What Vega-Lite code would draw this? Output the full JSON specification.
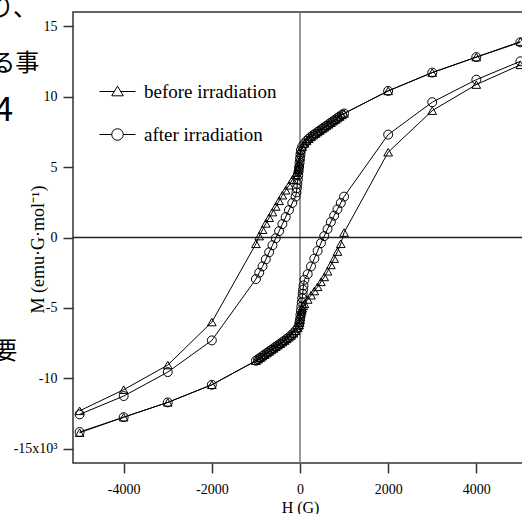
{
  "$schema": "https://vega.github.io/schema/vega-lite/v6.json",
  "autosize": {"type": "none"},
  "padding": {"left": 73, "top": 12, "right": 0, "bottom": 51},
  "width": 454,
  "height": 451,
  "background": "white",
  "config": {
    "view": {"stroke": "#333", "strokeWidth": 1.5},
    "axis": {"domain": false, "grid": false, "tickColor": "#333", "tickWidth": 1.5, "tickSize": 10,
      "labelFont": "Liberation Serif", "labelFontSize": 14, "labelColor": "black",
      "titleFont": "Liberation Serif", "titleFontSize": 16, "titleFontWeight": "normal", "titleColor": "black"},
    "legend": {"orient": "none", "title": null, "padding": 0, "symbolSize": 1296, "symbolStrokeWidth": 1,
      "symbolStrokeColor": "black", "symbolFillColor": "transparent", "symbolOpacity": 1,
      "labelFont": "Liberation Serif", "labelFontSize": 19, "labelColor": "black", "labelOffset": 8}
  },
  "datasets": {
    "pts": [
      {"sample":"before","branch":"down","H":5000,"M":13.9},{"sample":"before","branch":"down","H":4000,"M":12.8},{"sample":"before","branch":"down","H":3000,"M":11.7},{"sample":"before","branch":"down","H":2000,"M":10.4},{"sample":"before","branch":"down","H":1000,"M":8.8},{"sample":"before","branch":"down","H":950,"M":8.69},{"sample":"before","branch":"down","H":900,"M":8.58},{"sample":"before","branch":"down","H":850,"M":8.47},{"sample":"before","branch":"down","H":800,"M":8.36},{"sample":"before","branch":"down","H":750,"M":8.25},{"sample":"before","branch":"down","H":700,"M":8.14},{"sample":"before","branch":"down","H":650,"M":8.03},{"sample":"before","branch":"down","H":600,"M":7.92},{"sample":"before","branch":"down","H":550,"M":7.81},{"sample":"before","branch":"down","H":500,"M":7.7},{"sample":"before","branch":"down","H":450,"M":7.59},{"sample":"before","branch":"down","H":400,"M":7.48},{"sample":"before","branch":"down","H":350,"M":7.37},{"sample":"before","branch":"down","H":300,"M":7.26},{"sample":"before","branch":"down","H":250,"M":7.14},{"sample":"before","branch":"down","H":200,"M":7.0},{"sample":"before","branch":"down","H":150,"M":6.85},{"sample":"before","branch":"down","H":100,"M":6.67},{"sample":"before","branch":"down","H":50,"M":6.45},{"sample":"before","branch":"down","H":20,"M":6.25},{"sample":"before","branch":"down","H":10,"M":6.0},{"sample":"before","branch":"down","H":0,"M":5.7},{"sample":"before","branch":"down","H":-10,"M":5.4},{"sample":"before","branch":"down","H":-20,"M":5.2},{"sample":"before","branch":"down","H":-30,"M":5.05},{"sample":"before","branch":"down","H":-40,"M":4.9},{"sample":"before","branch":"down","H":-50,"M":4.8},{"sample":"before","branch":"down","H":-75,"M":4.6},{"sample":"before","branch":"down","H":-100,"M":4.45},{"sample":"before","branch":"down","H":-175,"M":4.1},{"sample":"before","branch":"down","H":-250,"M":3.7},{"sample":"before","branch":"down","H":-325,"M":3.35},{"sample":"before","branch":"down","H":-400,"M":3.0},{"sample":"before","branch":"down","H":-475,"M":2.6},{"sample":"before","branch":"down","H":-550,"M":2.2},{"sample":"before","branch":"down","H":-625,"M":1.8},{"sample":"before","branch":"down","H":-700,"M":1.4},{"sample":"before","branch":"down","H":-775,"M":1.0},{"sample":"before","branch":"down","H":-850,"M":0.55},{"sample":"before","branch":"down","H":-925,"M":0.1},{"sample":"before","branch":"down","H":-1000,"M":-0.45},{"sample":"before","branch":"down","H":-2000,"M":-6.0},{"sample":"before","branch":"down","H":-3000,"M":-9.05},{"sample":"before","branch":"down","H":-4000,"M":-10.8},{"sample":"before","branch":"down","H":-5000,"M":-12.3},
      {"sample":"before","branch":"up","H":-5000,"M":-13.85},{"sample":"before","branch":"up","H":-4000,"M":-12.75},{"sample":"before","branch":"up","H":-3000,"M":-11.7},{"sample":"before","branch":"up","H":-2000,"M":-10.45},{"sample":"before","branch":"up","H":-1000,"M":-8.75},{"sample":"before","branch":"up","H":-950,"M":-8.64},{"sample":"before","branch":"up","H":-900,"M":-8.53},{"sample":"before","branch":"up","H":-850,"M":-8.42},{"sample":"before","branch":"up","H":-800,"M":-8.31},{"sample":"before","branch":"up","H":-750,"M":-8.2},{"sample":"before","branch":"up","H":-700,"M":-8.09},{"sample":"before","branch":"up","H":-650,"M":-7.98},{"sample":"before","branch":"up","H":-600,"M":-7.87},{"sample":"before","branch":"up","H":-550,"M":-7.76},{"sample":"before","branch":"up","H":-500,"M":-7.65},{"sample":"before","branch":"up","H":-450,"M":-7.54},{"sample":"before","branch":"up","H":-400,"M":-7.43},{"sample":"before","branch":"up","H":-350,"M":-7.32},{"sample":"before","branch":"up","H":-300,"M":-7.2},{"sample":"before","branch":"up","H":-250,"M":-7.08},{"sample":"before","branch":"up","H":-200,"M":-6.95},{"sample":"before","branch":"up","H":-150,"M":-6.8},{"sample":"before","branch":"up","H":-100,"M":-6.62},{"sample":"before","branch":"up","H":-50,"M":-6.42},{"sample":"before","branch":"up","H":-20,"M":-6.22},{"sample":"before","branch":"up","H":-10,"M":-6.05},{"sample":"before","branch":"up","H":0,"M":-5.85},{"sample":"before","branch":"up","H":10,"M":-5.6},{"sample":"before","branch":"up","H":20,"M":-5.4},{"sample":"before","branch":"up","H":30,"M":-5.25},{"sample":"before","branch":"up","H":40,"M":-5.12},{"sample":"before","branch":"up","H":50,"M":-5.02},{"sample":"before","branch":"up","H":75,"M":-4.85},{"sample":"before","branch":"up","H":100,"M":-4.7},{"sample":"before","branch":"up","H":175,"M":-4.4},{"sample":"before","branch":"up","H":250,"M":-4.1},{"sample":"before","branch":"up","H":325,"M":-3.8},{"sample":"before","branch":"up","H":400,"M":-3.5},{"sample":"before","branch":"up","H":475,"M":-3.15},{"sample":"before","branch":"up","H":550,"M":-2.8},{"sample":"before","branch":"up","H":625,"M":-2.4},{"sample":"before","branch":"up","H":700,"M":-1.95},{"sample":"before","branch":"up","H":775,"M":-1.5},{"sample":"before","branch":"up","H":850,"M":-1.0},{"sample":"before","branch":"up","H":925,"M":-0.45},{"sample":"before","branch":"up","H":1000,"M":0.35},{"sample":"before","branch":"up","H":2000,"M":6.05},{"sample":"before","branch":"up","H":3000,"M":9.0},{"sample":"before","branch":"up","H":4000,"M":10.85},{"sample":"before","branch":"up","H":5000,"M":12.25},
      {"sample":"after","branch":"down","H":5000,"M":13.85},{"sample":"after","branch":"down","H":4000,"M":12.8},{"sample":"after","branch":"down","H":3000,"M":11.7},{"sample":"after","branch":"down","H":2000,"M":10.4},{"sample":"after","branch":"down","H":1000,"M":8.8},{"sample":"after","branch":"down","H":950,"M":8.7},{"sample":"after","branch":"down","H":900,"M":8.59},{"sample":"after","branch":"down","H":850,"M":8.48},{"sample":"after","branch":"down","H":800,"M":8.37},{"sample":"after","branch":"down","H":750,"M":8.26},{"sample":"after","branch":"down","H":700,"M":8.15},{"sample":"after","branch":"down","H":650,"M":8.04},{"sample":"after","branch":"down","H":600,"M":7.93},{"sample":"after","branch":"down","H":550,"M":7.82},{"sample":"after","branch":"down","H":500,"M":7.71},{"sample":"after","branch":"down","H":450,"M":7.6},{"sample":"after","branch":"down","H":400,"M":7.49},{"sample":"after","branch":"down","H":350,"M":7.38},{"sample":"after","branch":"down","H":300,"M":7.27},{"sample":"after","branch":"down","H":250,"M":7.15},{"sample":"after","branch":"down","H":200,"M":7.01},{"sample":"after","branch":"down","H":150,"M":6.86},{"sample":"after","branch":"down","H":100,"M":6.68},{"sample":"after","branch":"down","H":50,"M":6.46},{"sample":"after","branch":"down","H":20,"M":6.2},{"sample":"after","branch":"down","H":10,"M":5.9},{"sample":"after","branch":"down","H":0,"M":5.6},{"sample":"after","branch":"down","H":-10,"M":5.3},{"sample":"after","branch":"down","H":-20,"M":5.0},{"sample":"after","branch":"down","H":-30,"M":4.7},{"sample":"after","branch":"down","H":-40,"M":4.4},{"sample":"after","branch":"down","H":-50,"M":4.1},{"sample":"after","branch":"down","H":-60,"M":3.8},{"sample":"after","branch":"down","H":-70,"M":3.5},{"sample":"after","branch":"down","H":-80,"M":3.2},{"sample":"after","branch":"down","H":-100,"M":2.9},{"sample":"after","branch":"down","H":-175,"M":2.45},{"sample":"after","branch":"down","H":-250,"M":1.95},{"sample":"after","branch":"down","H":-325,"M":1.45},{"sample":"after","branch":"down","H":-400,"M":0.95},{"sample":"after","branch":"down","H":-475,"M":0.45},{"sample":"after","branch":"down","H":-550,"M":-0.05},{"sample":"after","branch":"down","H":-625,"M":-0.55},{"sample":"after","branch":"down","H":-700,"M":-1.05},{"sample":"after","branch":"down","H":-775,"M":-1.55},{"sample":"after","branch":"down","H":-850,"M":-2.05},{"sample":"after","branch":"down","H":-925,"M":-2.5},{"sample":"after","branch":"down","H":-1000,"M":-2.95},{"sample":"after","branch":"down","H":-2000,"M":-7.3},{"sample":"after","branch":"down","H":-3000,"M":-9.55},{"sample":"after","branch":"down","H":-4000,"M":-11.25},{"sample":"after","branch":"down","H":-5000,"M":-12.55},
      {"sample":"after","branch":"up","H":-5000,"M":-13.8},{"sample":"after","branch":"up","H":-4000,"M":-12.75},{"sample":"after","branch":"up","H":-3000,"M":-11.7},{"sample":"after","branch":"up","H":-2000,"M":-10.45},{"sample":"after","branch":"up","H":-1000,"M":-8.74},{"sample":"after","branch":"up","H":-950,"M":-8.63},{"sample":"after","branch":"up","H":-900,"M":-8.52},{"sample":"after","branch":"up","H":-850,"M":-8.41},{"sample":"after","branch":"up","H":-800,"M":-8.3},{"sample":"after","branch":"up","H":-750,"M":-8.19},{"sample":"after","branch":"up","H":-700,"M":-8.08},{"sample":"after","branch":"up","H":-650,"M":-7.97},{"sample":"after","branch":"up","H":-600,"M":-7.86},{"sample":"after","branch":"up","H":-550,"M":-7.75},{"sample":"after","branch":"up","H":-500,"M":-7.64},{"sample":"after","branch":"up","H":-450,"M":-7.53},{"sample":"after","branch":"up","H":-400,"M":-7.42},{"sample":"after","branch":"up","H":-350,"M":-7.31},{"sample":"after","branch":"up","H":-300,"M":-7.19},{"sample":"after","branch":"up","H":-250,"M":-7.07},{"sample":"after","branch":"up","H":-200,"M":-6.94},{"sample":"after","branch":"up","H":-150,"M":-6.79},{"sample":"after","branch":"up","H":-100,"M":-6.61},{"sample":"after","branch":"up","H":-50,"M":-6.41},{"sample":"after","branch":"up","H":-20,"M":-6.2},{"sample":"after","branch":"up","H":-10,"M":-6.0},{"sample":"after","branch":"up","H":0,"M":-5.8},{"sample":"after","branch":"up","H":10,"M":-5.5},{"sample":"after","branch":"up","H":20,"M":-5.2},{"sample":"after","branch":"up","H":30,"M":-4.9},{"sample":"after","branch":"up","H":40,"M":-4.6},{"sample":"after","branch":"up","H":50,"M":-4.3},{"sample":"after","branch":"up","H":60,"M":-4.0},{"sample":"after","branch":"up","H":70,"M":-3.7},{"sample":"after","branch":"up","H":80,"M":-3.4},{"sample":"after","branch":"up","H":100,"M":-3.0},{"sample":"after","branch":"up","H":175,"M":-2.6},{"sample":"after","branch":"up","H":250,"M":-2.05},{"sample":"after","branch":"up","H":325,"M":-1.5},{"sample":"after","branch":"up","H":400,"M":-0.95},{"sample":"after","branch":"up","H":475,"M":-0.4},{"sample":"after","branch":"up","H":550,"M":0.1},{"sample":"after","branch":"up","H":625,"M":0.6},{"sample":"after","branch":"up","H":700,"M":1.1},{"sample":"after","branch":"up","H":775,"M":1.55},{"sample":"after","branch":"up","H":850,"M":2.0},{"sample":"after","branch":"up","H":925,"M":2.45},{"sample":"after","branch":"up","H":1000,"M":2.9},{"sample":"after","branch":"up","H":2000,"M":7.3},{"sample":"after","branch":"up","H":3000,"M":9.6},{"sample":"after","branch":"up","H":4000,"M":11.2},{"sample":"after","branch":"up","H":5000,"M":12.5}
    ],
    "vzero": [{"H": 0}],
    "hzero": [{"M": 0}],
    "jp": [
      {"t": "り、", "H": -5964, "M": 16.2, "s": 24},
      {"t": "る事", "H": -5918, "M": 12.3, "s": 24},
      {"t": "4", "H": -6508, "M": 9.0, "s": 34},
      {"t": "、", "H": -6508, "M": 5.5, "s": 24},
      {"t": "要", "H": -6417, "M": -8.1, "s": 24}
    ]
  },
  "encoding": {
    "x": {"field": "H", "type": "quantitative",
      "scale": {"domain": [-5150, 5150], "nice": false, "zero": false},
      "axis": {"values": [-4000, -2000, 0, 2000, 4000], "format": "d",
        "labelExpr": "replace(datum.label, '\u2212', '-')",
        "labelPadding": 9, "title": "H (G)", "titleBaseline": "alphabetic", "titleY": 49}},
    "y": {"field": "M", "type": "quantitative",
      "scale": {"domain": [-16, 16], "nice": false, "zero": false},
      "axis": {"values": [-15, -10, -5, 0, 5, 10, 15], "format": "d",
        "labelExpr": "datum.value == -15 ? '-15x10³' : replace(datum.label, '\u2212', '-')",
        "labelPadding": 6, "title": "M (emu·G·mol⁻¹)", "titleFontSize": 18, "titleX": -30, "titleY": 237, "titleBaseline": "alphabetic", "titleAngle": -90}}
  },
  "resolve": {"scale": {"color": "independent"}, "legend": {"color": "independent"}},
  "layer": [
    {"data": {"name": "vzero"}, "mark": {"type": "rule", "color": "#777", "strokeWidth": 1.5}, "encoding": {"y": null}},
    {"data": {"name": "hzero"}, "mark": {"type": "rule", "color": "#222", "strokeWidth": 1.5}, "encoding": {"x": null}},
    {"data": {"name": "pts"}, "mark": {"type": "line", "color": "black", "strokeWidth": 1},
      "encoding": {"detail": [{"field": "sample"}, {"field": "branch"}]}},
    {"data": {"name": "pts"}, "transform": [{"filter": "datum.sample === 'before'"}],
      "mark": {"type": "point", "shape": "triangle-up", "filled": false, "strokeWidth": 1, "size": 75, "opacity": 1},
      "encoding": {"color": {"field": "sample", "type": "nominal",
        "scale": {"domain": ["before"], "range": ["black"]},
        "legend": {"legendX": 26, "legendY": 61, "labelExpr": "datum.label + ' irradiation'",
          "symbolType": "M-1,0H-0.17M0.17,0H1M0,-0.3L0.32,0.24L-0.32,0.24Z"}}}},
    {"data": {"name": "pts"}, "transform": [{"filter": "datum.sample === 'after'"}],
      "mark": {"type": "point", "shape": "circle", "filled": false, "strokeWidth": 1, "size": 80, "opacity": 1},
      "encoding": {"color": {"field": "sample", "type": "nominal",
        "scale": {"domain": ["after"], "range": ["black"]},
        "legend": {"legendX": 26, "legendY": 104, "labelExpr": "datum.label + ' irradiation'",
          "symbolType": "M-1,0H-0.32M0.32,0H1M-0.32,0A0.32,0.32,0,1,0,0.32,0A0.32,0.32,0,1,0,-0.32,0Z"}}}},
    {"data": {"name": "jp"}, "mark": {"type": "text", "align": "right", "baseline": "middle", "font": "Noto Sans CJK JP", "color": "black", "clip": false},
      "encoding": {"text": {"field": "t"}, "size": {"field": "s", "type": "quantitative", "scale": null}}}
  ]
}
